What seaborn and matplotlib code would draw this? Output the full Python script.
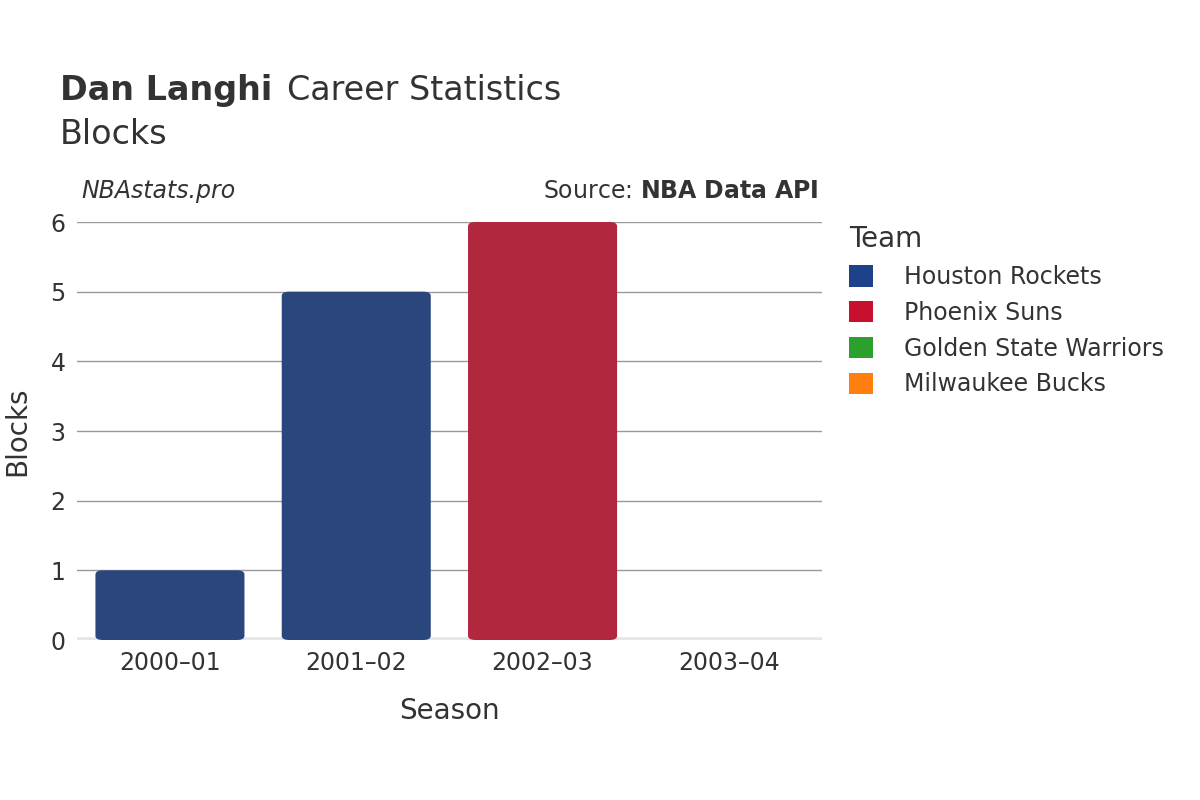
import matplotlib
matplotlib.use("Agg")
import matplotlib.pyplot as plt
import pandas as pd
import seaborn as sns
from matplotlib.patches import FancyBboxPatch, Patch

seasons = ["2000–01", "2001–02", "2002–03", "2003–04"]
teams = ["Houston Rockets", "Houston Rockets", "Phoenix Suns", "Milwaukee Bucks"]
blocks = [1, 5, 6, 0]

legend_teams = ["Houston Rockets", "Phoenix Suns", "Golden State Warriors", "Milwaukee Bucks"]
team_colors = ["#1D428A", "#C8102E", "#2CA02C", "#FF7F0E"]
palette = dict(zip(legend_teams, team_colors))

df = pd.DataFrame({"Season": seasons, "Team": teams, "Blocks": blocks})

plt.rcParams["font.family"] = "DejaVu Sans"
fig = plt.figure(figsize=(12, 8), dpi=100)
ax = fig.add_axes([0.064, 0.2, 0.621, 0.5225])

sns.barplot(data=df, x="Season", y="Blocks", hue="Team", palette=palette,
            dodge=False, width=0.8, legend=False, ax=ax)

# swap plain bars for rounded ones
for p in list(ax.patches):
    x, y = p.get_x(), p.get_y()
    w, h = p.get_width(), p.get_height()
    if h <= 0:
        p.remove()
        continue
    r = FancyBboxPatch((x, y), w, h, boxstyle="round,pad=0,rounding_size=0.04",
                       mutation_aspect=1 / 0.2 * 0.05 * 6,
                       facecolor=p.get_facecolor(), edgecolor="none", zorder=3)
    p.remove()
    ax.add_patch(r)

ax.set_ylim(0, 6)
ax.set_xlim(-0.5, 3.5)
ax.set_yticks(range(7))
ax.grid(axis="y", color="#999999", linewidth=1, zorder=0)
ax.set_axisbelow(True)
ax.axhline(0, color="#e6e6e6", linewidth=4, zorder=2)
for s in ax.spines.values():
    s.set_visible(False)
ax.tick_params(length=0, labelsize=17, colors="#333333", pad=8)
ax.set_xlabel("Season", fontsize=20, color="#333333", labelpad=16)
ax.set_ylabel("Blocks", fontsize=20, color="#333333", labelpad=14)

fig.text(0.05, 0.875, "Dan Langhi", fontsize=24, fontweight="bold", color="#333333")
fig.text(0.239, 0.875, "Career Statistics", fontsize=24, color="#333333")
fig.text(0.05, 0.82, "Blocks", fontsize=24, color="#333333")
fig.text(0.068, 0.752, "NBAstats.pro", fontsize=17, style="italic", color="#333333")
fig.text(0.682, 0.752, "Source: $\\bf{NBA\\ Data\\ API}$", fontsize=17,
         color="#333333", ha="right")

handles = [Patch(facecolor=c, edgecolor="none") for c in team_colors]
leg = fig.legend(handles, legend_teams, loc="upper left", bbox_to_anchor=(0.69, 0.745),
                 frameon=False, fontsize=17, title="Team", title_fontsize=20,
                 handlelength=1, handleheight=1, labelspacing=0.5, handletextpad=1.3)
leg._legend_box.align = "left"
for t in leg.get_texts():
    t.set_color("#333333")
leg.get_title().set_color("#333333")

fig.savefig("out.png", dpi=100)
